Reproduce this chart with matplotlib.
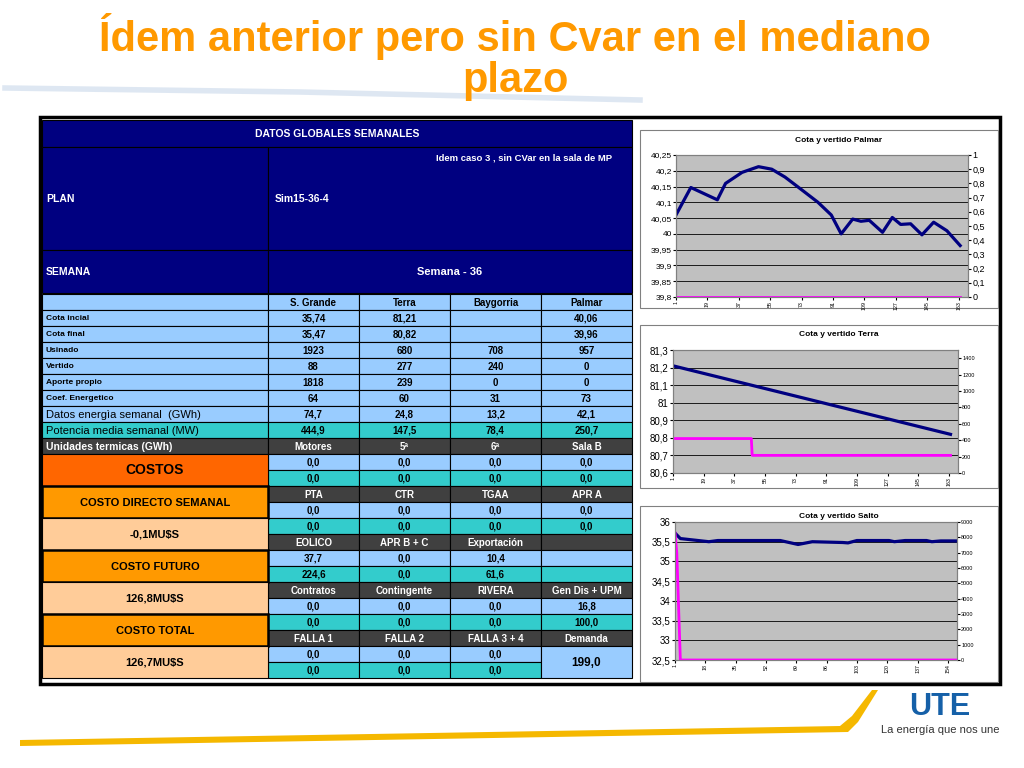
import matplotlib
matplotlib.use("Agg")
import matplotlib.pyplot as plt
from matplotlib.patches import Rectangle, Polygon

plt.rcParams["font.family"] = ["Liberation Sans", "DejaVu Sans"]

# ---- table data ----
centrales = ["S. Grande", "Terra", "Baygorria", "Palmar"]
hidro_labels = ["Cota incial", "Cota final", "Usinado", "Vertido", "Aporte propio", "Coef. Energetico"]
hidro_vals = [
    ["35,74", "81,21", "", "40,06"],
    ["35,47", "80,82", "", "39,96"],
    ["1923", "680", "708", "957"],
    ["88", "277", "240", "0"],
    ["1818", "239", "0", "0"],
    ["64", "60", "31", "73"],
]
energia_vals = ["74,7", "24,8", "13,2", "42,1"]
potencia_vals = ["444,9", "147,5", "78,4", "250,7"]
bloques = [
    (["Motores", "5ª", "6ª", "Sala B"], [["0,0", "0,0", "0,0", "0,0"], ["0,0", "0,0", "0,0", "0,0"]]),
    (["PTA", "CTR", "TGAA", "APR A"], [["0,0", "0,0", "0,0", "0,0"], ["0,0", "0,0", "0,0", "0,0"]]),
    (["EOLICO", "APR B + C", "Exportación", ""], [["37,7", "0,0", "10,4", ""], ["224,6", "0,0", "61,6", ""]]),
    (["Contratos", "Contingente", "RIVERA", "Gen Dis + UPM"], [["0,0", "0,0", "0,0", "16,8"], ["0,0", "0,0", "0,0", "100,0"]]),
    (["FALLA 1", "FALLA 2", "FALLA 3 + 4", "Demanda"], [["0,0", "0,0", "0,0", None], ["0,0", "0,0", "0,0", None]]),
]
demanda = "199,0"
costos = [("COSTO DIRECTO SEMANAL", "-0,1MU$S"), ("COSTO FUTURO", "126,8MU$S"), ("COSTO TOTAL", "126,7MU$S")]

# ---- chart data (hour, value) ----
palmar_h = [1, 9.5, 24.7, 29.4, 38.9, 48.3, 55.9, 63.5, 73, 82.4, 90, 95.7, 102.3, 107, 111.8,
            119.4, 125, 129.8, 135.5, 142, 148.7, 156.3, 163.9]
palmar_cota = [40.06, 40.147, 40.108, 40.16, 40.195, 40.213, 40.205, 40.18, 40.14, 40.1, 40.06, 40.0,
               40.047, 40.04, 40.043, 40.005, 40.052, 40.03, 40.032, 39.997, 40.037, 40.01, 39.963]
palmar_vert_h = [1, 164]
palmar_vert = [0, 0]
terra_h = [1, 164]
terra_cota = [81.21, 80.82]
terra_vert_h = [1, 47, 47.5, 164]
terra_vert = [420, 420, 215, 215]
salto_h = [1, 4, 10, 20, 25, 60, 66, 70, 78, 95, 98, 103, 121, 124, 130, 142, 145, 150, 162, 168]
salto_cota = [35.72, 35.58, 35.55, 35.5, 35.53, 35.53, 35.47, 35.43, 35.5, 35.48, 35.47, 35.53,
              35.53, 35.5, 35.53, 35.53, 35.5, 35.52, 35.52, 35.45]
salto_vert_h = [1, 2, 4, 168]
salto_vert = [8300, 7000, 0, 0]

NAVY = "#000080"
LBLUE = "#99CCFF"
TEAL = "#33CCCC"
GRAY = "#404040"
ORANGE = "#FF9900"
DORANGE = "#FF6600"
PEACH = "#FFCC99"

fig = plt.figure(figsize=(10.24, 7.68), dpi=100)
ax = fig.add_axes([0, 0, 1, 1])
ax.set_xlim(0, 1024)
ax.set_ylim(768, 0)
ax.axis("off")


def cell(x0, y0, x1, y1, fc, s="", color="black", size=7, ha="center", weight="bold", lw=0.8):
    ax.add_patch(Rectangle((x0, y0), x1 - x0, y1 - y0, facecolor=fc, edgecolor="black", lw=lw))
    if s:
        tx = (x0 + x1) / 2 if ha == "center" else x0 + 4
        ax.text(tx, (y0 + y1) / 2 + 0.5, s, ha=ha, va="center", fontsize=size, color=color, weight=weight)


# decorations
ax.plot([5, 300, 640], [88, 92, 100], color="#C9D8EA", lw=4, alpha=0.6)
ax.add_patch(Polygon([[20, 740], [840, 726], [852, 716], [872, 690], [878, 690], [858, 722], [848, 732], [20, 746]],
                     facecolor="#F5B800", edgecolor="none"))
ax.text(940, 707, "UTE", fontsize=22, weight="bold", color="#1560A8", ha="center", va="center")
ax.text(940, 730, "La energía que nos une", fontsize=8, color="#333333", ha="center", va="center")

# title
ax.text(515, 57, "Ídem anterior pero sin Cvar en el mediano\nplazo", ha="center", va="center",
        fontsize=30, weight="bold", color=ORANGE, linespacing=1.05)

# frame
ax.add_patch(Rectangle((40, 117), 960, 567, facecolor="white", edgecolor="black", lw=2.5))

# header
cols = [42, 268, 359, 450, 541, 632]
cell(42, 120, 632, 147, NAVY, "DATOS GLOBALES SEMANALES", color="white", size=7.5)
cell(42, 147, 268, 250, NAVY, "PLAN", color="white", size=7.5, ha="left")
cell(268, 147, 632, 250, NAVY)
ax.text(275, 199, "Sim15-36-4", color="white", fontsize=7.5, weight="bold", va="center")
ax.text(612, 158, "Idem caso 3 , sin CVar en la sala de MP", color="white", fontsize=6.8,
        weight="bold", va="center", ha="right")
cell(42, 250, 268, 293, NAVY, "SEMANA", color="white", size=7.5, ha="left")
cell(268, 250, 632, 293, NAVY, "Semana - 36", color="white", size=8)

RH = 16
y = 294
cell(42, y, 268, y + RH, LBLUE)
for j, name in enumerate(centrales):
    cell(cols[j + 1], y, cols[j + 2], y + RH, LBLUE, name)
y += RH
for lab, vals in zip(hidro_labels, hidro_vals):
    cell(42, y, 268, y + RH, LBLUE, lab, size=6, ha="left")
    for j, v in enumerate(vals):
        cell(cols[j + 1], y, cols[j + 2], y + RH, LBLUE, v)
    y += RH
cell(42, y, 268, y + RH, LBLUE, "Datos energìa semanal  (GWh)", size=8, ha="left", weight="normal")
for j, v in enumerate(energia_vals):
    cell(cols[j + 1], y, cols[j + 2], y + RH, LBLUE, v)
y += RH
cell(42, y, 268, y + RH, TEAL, "Potencia media semanal (MW)", size=8, ha="left", weight="normal")
for j, v in enumerate(potencia_vals):
    cell(cols[j + 1], y, cols[j + 2], y + RH, TEAL, v)
y += RH
cell(42, y, 268, y + RH, GRAY, "Unidades termicas (GWh)", size=7.5, ha="left", color="white")

for k, (heads, rows) in enumerate(bloques):
    if k > 0:
        y += RH
    for j, h in enumerate(heads):
        cell(cols[j + 1], y, cols[j + 2], y + RH, GRAY, h, color="white")
    for r, vals in enumerate(rows):
        fc = LBLUE if r == 0 else TEAL
        for j, v in enumerate(vals):
            if v is None:
                continue
            cell(cols[j + 1], y + RH * (r + 1), cols[j + 2], y + RH * (r + 2), fc, v)
    y += 2 * RH
cell(cols[4], y - RH, cols[5], y + RH, LBLUE, demanda, size=8.5)

# left cost blocks
yc = 454
cell(42, yc, 268, yc + 2 * RH, DORANGE, "COSTOS", size=10)
yc += 2 * RH
for lab, val in costos:
    cell(42, yc, 268, yc + 2 * RH, ORANGE, lab, size=8, lw=1.8)
    cell(42, yc + 2 * RH, 268, yc + 4 * RH, PEACH, val, size=8)
    yc += 4 * RH


# charts
def chart(box, axpos, title, xh, yv, vh, vv, ylim, yticks, ylabels, rlim, rticks, rlabels,
          xticks, lsize, rsize):
    x0, y0, x1, y1 = box
    ax.add_patch(Rectangle((x0, y0), x1 - x0, y1 - y0, facecolor="white", edgecolor="#808080", lw=0.8))
    ax.text((x0 + x1) / 2 + 20, y0 + 10, title, ha="center", va="center", fontsize=6, weight="bold")
    px0, py0, px1, py1 = axpos
    a = fig.add_axes([px0 / 1024, 1 - py1 / 768, (px1 - px0) / 1024, (py1 - py0) / 768])
    a.set_facecolor("#C0C0C0")
    a.plot(xh, yv, color=NAVY, lw=2.3, zorder=3)
    a.set_ylim(*ylim)
    a.set_yticks(yticks)
    a.set_yticklabels(ylabels, fontsize=lsize)
    a.grid(axis="y", color="black", lw=0.6)
    a.set_xlim(1, xticks[-1] + (xticks[1] - xticks[0]) * 0.3)
    a.set_xticks(xticks)
    a.set_xticklabels([str(t) for t in xticks], rotation=90, fontsize=3.8)
    a.tick_params(length=2, pad=1)
    for s in a.spines.values():
        s.set_color("#808080")
    b = a.twinx()
    b.plot(vh, vv, color="#FF00FF", lw=2, zorder=2)
    b.set_ylim(*rlim)
    b.set_yticks(rticks)
    b.set_yticklabels(rlabels, fontsize=rsize)
    b.tick_params(length=2, pad=1)
    for s in b.spines.values():
        s.set_color("#808080")


palmar_ticks = [39.8 + 0.05 * i for i in range(10)]
chart((640, 130, 998, 308), (676, 155, 968, 297), "Cota y vertido Palmar",
      palmar_h, palmar_cota, palmar_vert_h, palmar_vert,
      (39.8, 40.25), palmar_ticks, ["39,8", "39,85", "39,9", "39,95", "40", "40,05", "40,1", "40,15", "40,2", "40,25"],
      (0, 1), [i / 10 for i in range(11)], ["0", "0,1", "0,2", "0,3", "0,4", "0,5", "0,6", "0,7", "0,8", "0,9", "1"],
      [1, 19, 37, 55, 73, 91, 109, 127, 145, 163], 6, 6.5)
chart((640, 325, 998, 488), (673, 350, 958, 473), "Cota y vertido Terra",
      terra_h, terra_cota, terra_vert_h, terra_vert,
      (80.6, 81.3), [80.6 + 0.1 * i for i in range(8)], ["80,6", "80,7", "80,8", "80,9", "81", "81,1", "81,2", "81,3"],
      (0, 1500), list(range(0, 1500, 200)), [str(v) for v in range(0, 1500, 200)],
      [1, 19, 37, 55, 73, 91, 109, 127, 145, 163], 7, 4)
chart((640, 506, 998, 682), (675, 522, 957, 660), "Cota y vertido Salto",
      salto_h, salto_cota, salto_vert_h, salto_vert,
      (32.5, 36), [32.5 + 0.5 * i for i in range(8)], ["32,5", "33", "33,5", "34", "34,5", "35", "35,5", "36"],
      (0, 9000), list(range(0, 10000, 1000)), [str(v) for v in range(0, 10000, 1000)],
      [1, 18, 35, 52, 69, 86, 103, 120, 137, 154], 7, 4)

fig.savefig("out.png", dpi=100)
